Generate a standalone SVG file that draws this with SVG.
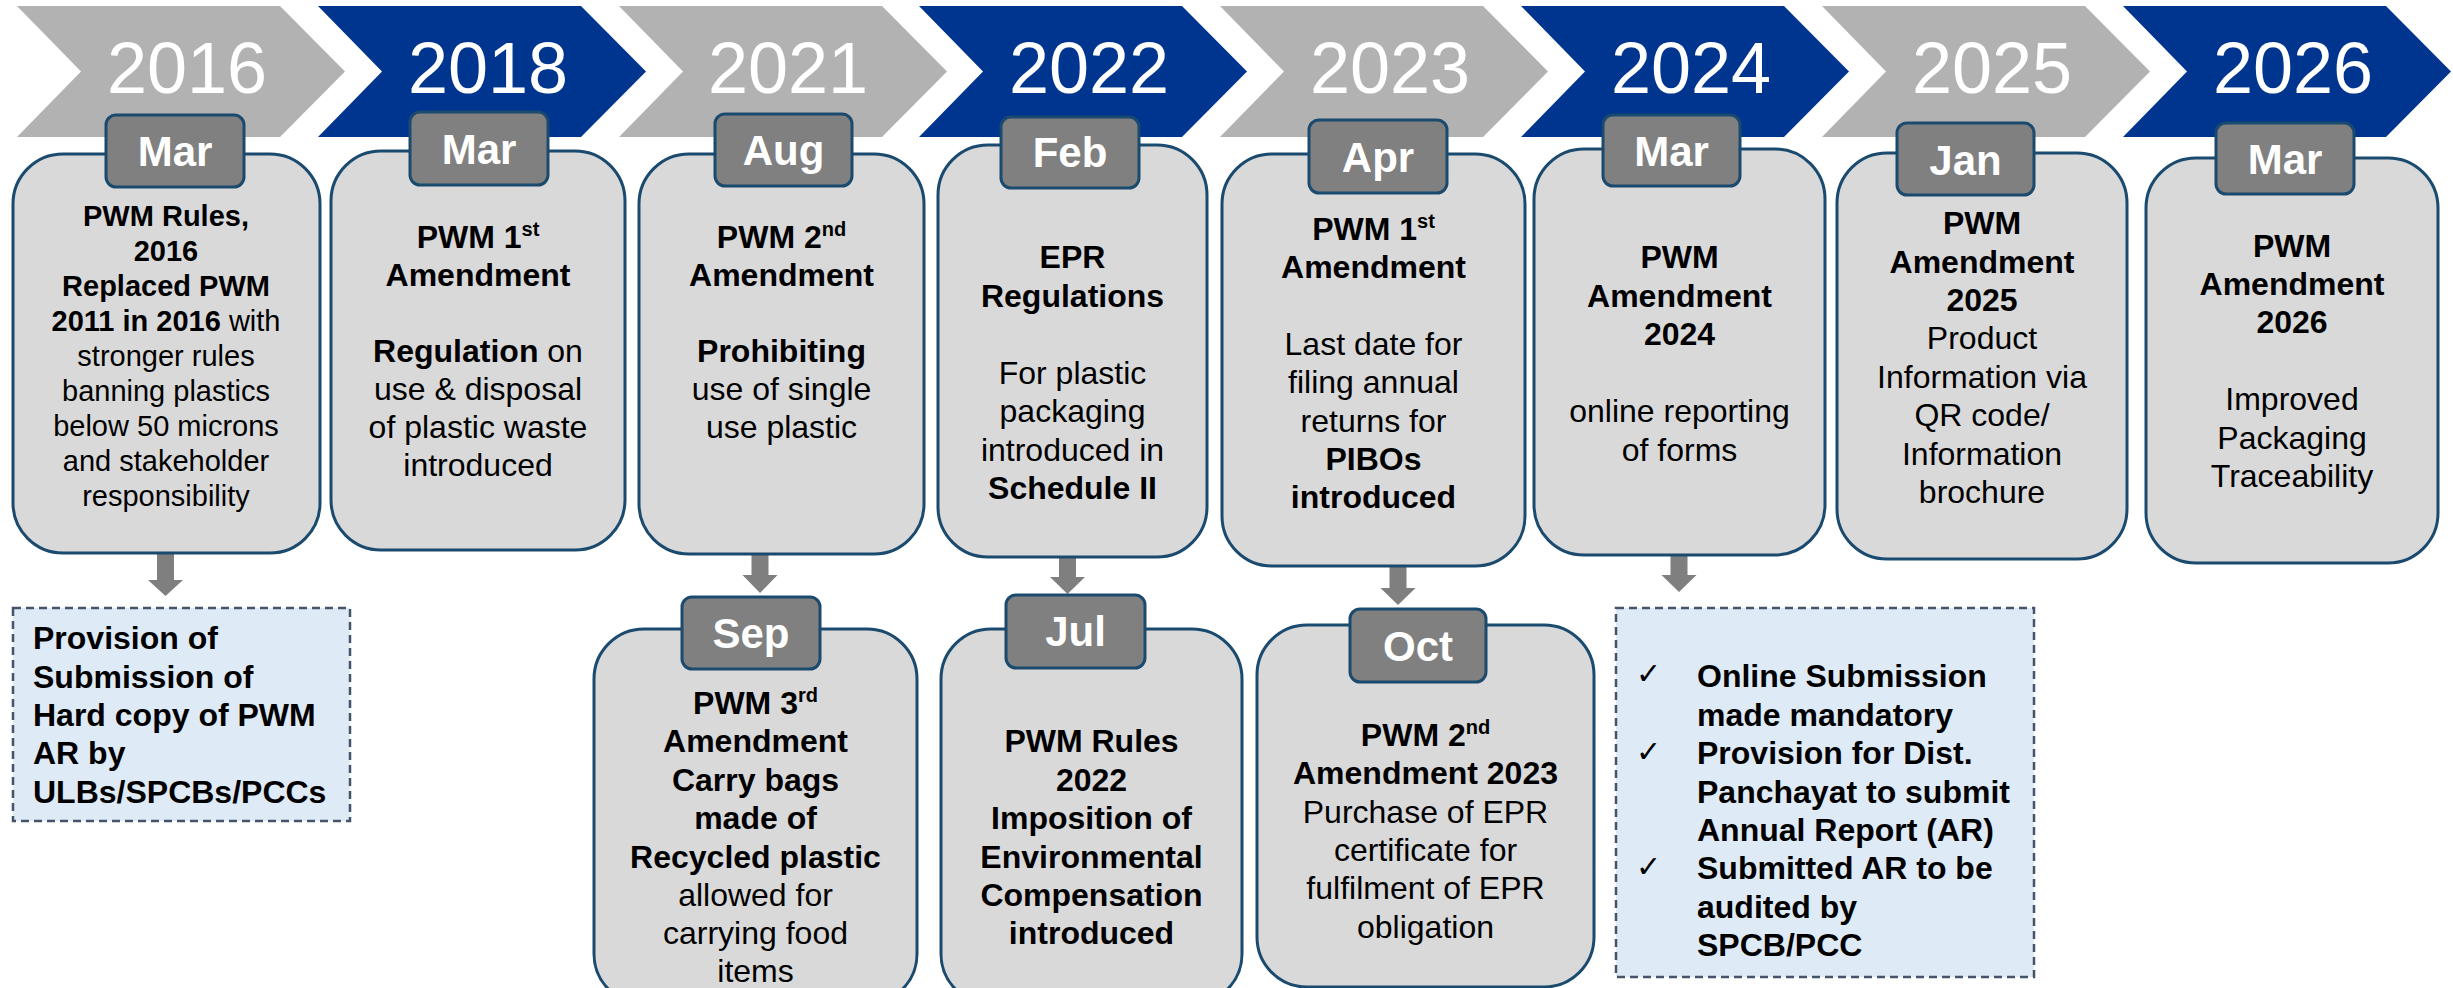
<svg xmlns="http://www.w3.org/2000/svg" width="2453" height="988" viewBox="0 0 2453 988">
<defs>
<style>
text{font-family:"Liberation Sans",Arial,Helvetica,sans-serif;}
.cg{fill:#B2B2B2;}
.cb{fill:#00358F;}
.yr{fill:#FFFFFF;font-size:72px;text-anchor:middle;}
.box{fill:#D9D9D9;stroke:#1B4A6F;stroke-width:3;}
.lbl{fill:#808080;stroke:#1B4A6F;stroke-width:3;}
.mt{fill:#FFFFFF;font-size:42px;font-weight:bold;text-anchor:middle;}
.t{fill:#000000;font-size:32px;text-anchor:middle;}
.t29{fill:#000000;font-size:29px;text-anchor:middle;}
.b{font-weight:bold;}
.dash{fill:#DEEAF6;stroke:#44546A;stroke-width:2.5;stroke-dasharray:8 5;}
.tl{fill:#000000;font-size:32px;font-weight:bold;}
.ck{fill:#000000;font-size:30px;font-family:"DejaVu Sans",sans-serif;}
.arr{fill:#7F7F7F;}
</style>
</defs>

<g id="timeline">
<polygon class="cg" points="17,6 280,6 345,71.5 280,137 17,137 81,71.5"/>
<text class="yr" x="187" y="93">2016</text>
<polygon class="cb" points="318,6 581,6 646,71.5 581,137 318,137 382,71.5"/>
<text class="yr" x="488" y="93">2018</text>
<polygon class="cg" points="619,6 882,6 947,71.5 882,137 619,137 683,71.5"/>
<text class="yr" x="788" y="93">2021</text>
<polygon class="cb" points="919,6 1182,6 1247,71.5 1182,137 919,137 983,71.5"/>
<text class="yr" x="1089" y="93">2022</text>
<polygon class="cg" points="1220,6 1483,6 1548,71.5 1483,137 1220,137 1284,71.5"/>
<text class="yr" x="1390" y="93">2023</text>
<polygon class="cb" points="1521,6 1784,6 1849,71.5 1784,137 1521,137 1585,71.5"/>
<text class="yr" x="1691" y="93">2024</text>
<polygon class="cg" points="1822,6 2085,6 2150,71.5 2085,137 1822,137 1886,71.5"/>
<text class="yr" x="1992" y="93">2025</text>
<polygon class="cb" points="2123,6 2386,6 2451,71.5 2386,137 2123,137 2187,71.5"/>
<text class="yr" x="2293" y="93">2026</text>
</g>

<g id="connectors">
<polygon class="arr" points="157,553 174,553 174,580 183,580 165.5,596 148,580 157,580"/>
<polygon class="arr" points="751.5,555 768.5,555 768.5,575 777.5,575 760,593 742.5,575 751.5,575"/>
<polygon class="arr" points="1059,558 1076,558 1076,577 1085,577 1067.5,594 1050,577 1059,577"/>
<polygon class="arr" points="1389.5,567 1406.5,567 1406.5,588 1415.5,588 1398,605 1380.5,588 1389.5,588"/>
<polygon class="arr" points="1670.5,555 1687.5,555 1687.5,575 1696.5,575 1679,592 1661.5,575 1670.5,575"/>
</g>

<g id="n2016">
<rect class="box" x="13" y="154" width="307" height="399" rx="50"/>
<rect class="lbl" x="106" y="115" width="138" height="72" rx="10"/>
<text class="mt" x="175" y="166">Mar</text>
<text class="t29" x="166" y="226"><tspan class="b">PWM Rules,</tspan></text>
<text class="t29" x="166" y="261"><tspan class="b">2016</tspan></text>
<text class="t29" x="166" y="296"><tspan class="b">Replaced PWM</tspan></text>
<text class="t29" x="166" y="331"><tspan class="b">2011 in 2016</tspan> with</text>
<text class="t29" x="166" y="366">stronger rules</text>
<text class="t29" x="166" y="401">banning plastics</text>
<text class="t29" x="166" y="436">below 50 microns</text>
<text class="t29" x="166" y="471">and stakeholder</text>
<text class="t29" x="166" y="506">responsibility</text>
</g>

<g id="n2016b">
<rect class="dash" x="13" y="608" width="337" height="213"/>
<text class="tl" x="33" y="649">Provision of</text>
<text class="tl" x="33" y="688">Submission of</text>
<text class="tl" x="33" y="726">Hard copy of PWM</text>
<text class="tl" x="33" y="764">AR by</text>
<text class="tl" x="33" y="803">ULBs/SPCBs/PCCs</text>
</g>

<g id="n2018">
<rect class="box" x="331" y="151" width="294" height="399" rx="50"/>
<rect class="lbl" x="410" y="112" width="138" height="73" rx="10"/>
<text class="mt" x="479" y="164">Mar</text>
<text class="t b" x="478" y="248">PWM 1<tspan font-size="20" dy="-12">st</tspan></text>
<text class="t b" x="478" y="286">Amendment</text>
<text class="t" x="478" y="362"><tspan class="b">Regulation</tspan> on</text>
<text class="t" x="478" y="400">use &amp; disposal</text>
<text class="t" x="478" y="438">of plastic waste</text>
<text class="t" x="478" y="476">introduced</text>
</g>

<g id="n2021">
<rect class="box" x="639" y="154" width="285" height="400" rx="50"/>
<rect class="lbl" x="715" y="114" width="137" height="72" rx="10"/>
<text class="mt" x="783.5" y="165">Aug</text>
<text class="t b" x="781.5" y="248">PWM 2<tspan font-size="20" dy="-12">nd</tspan></text>
<text class="t b" x="781.5" y="286">Amendment</text>
<text class="t b" x="781.5" y="362">Prohibiting</text>
<text class="t" x="781.5" y="400">use of single</text>
<text class="t" x="781.5" y="438">use plastic</text>
</g>

<g id="n2021b">
<rect class="box" x="594" y="629" width="323" height="375" rx="50"/>
<rect class="lbl" x="682" y="597" width="138" height="72" rx="10"/>
<text class="mt" x="751" y="648">Sep</text>
<text class="t b" x="755.5" y="714">PWM 3<tspan font-size="20" dy="-12">rd</tspan></text>
<text class="t b" x="755.5" y="752">Amendment</text>
<text class="t b" x="755.5" y="791">Carry bags</text>
<text class="t b" x="755.5" y="829">made of</text>
<text class="t b" x="755.5" y="868">Recycled plastic</text>
<text class="t" x="755.5" y="906">allowed for</text>
<text class="t" x="755.5" y="944">carrying food</text>
<text class="t" x="755.5" y="982">items</text>
</g>

<g id="n2022">
<rect class="box" x="938" y="145" width="269" height="412" rx="50"/>
<rect class="lbl" x="1001" y="117" width="138" height="71" rx="10"/>
<text class="mt" x="1070" y="167">Feb</text>
<text class="t b" x="1072.5" y="268">EPR</text>
<text class="t b" x="1072.5" y="307">Regulations</text>
<text class="t" x="1072.5" y="384">For plastic</text>
<text class="t" x="1072.5" y="422">packaging</text>
<text class="t" x="1072.5" y="461">introduced in</text>
<text class="t b" x="1072.5" y="499">Schedule II</text>
</g>

<g id="n2022b">
<rect class="box" x="941" y="629" width="301" height="375" rx="50"/>
<rect class="lbl" x="1006" y="595" width="139" height="73" rx="10"/>
<text class="mt" x="1075.5" y="646">Jul</text>
<text class="t b" x="1091.5" y="752">PWM Rules</text>
<text class="t b" x="1091.5" y="791">2022</text>
<text class="t b" x="1091.5" y="829">Imposition of</text>
<text class="t b" x="1091.5" y="868">Environmental</text>
<text class="t b" x="1091.5" y="906">Compensation</text>
<text class="t b" x="1091.5" y="944">introduced</text>
</g>

<g id="n2023">
<rect class="box" x="1222" y="154" width="303" height="412" rx="50"/>
<rect class="lbl" x="1309" y="120" width="138" height="73" rx="10"/>
<text class="mt" x="1378" y="172">Apr</text>
<text class="t b" x="1373.5" y="240">PWM 1<tspan font-size="20" dy="-12">st</tspan></text>
<text class="t b" x="1373.5" y="278">Amendment</text>
<text class="t" x="1373.5" y="355">Last date for</text>
<text class="t" x="1373.5" y="393">filing annual</text>
<text class="t" x="1373.5" y="432">returns for</text>
<text class="t b" x="1373.5" y="470">PIBOs</text>
<text class="t b" x="1373.5" y="508">introduced</text>
</g>

<g id="n2023b">
<rect class="box" x="1257" y="625" width="337" height="362" rx="50"/>
<rect class="lbl" x="1350" y="609" width="136" height="73" rx="10"/>
<text class="mt" x="1418" y="661">Oct</text>
<text class="t b" x="1425.5" y="746">PWM 2<tspan font-size="20" dy="-12">nd</tspan></text>
<text class="t b" x="1425.5" y="784">Amendment 2023</text>
<text class="t" x="1425.5" y="823">Purchase of EPR</text>
<text class="t" x="1425.5" y="861">certificate for</text>
<text class="t" x="1425.5" y="899">fulfilment of EPR</text>
<text class="t" x="1425.5" y="938">obligation</text>
</g>

<g id="n2024">
<rect class="box" x="1534" y="149" width="291" height="406" rx="50"/>
<rect class="lbl" x="1603" y="115" width="137" height="71" rx="10"/>
<text class="mt" x="1671.5" y="166">Mar</text>
<text class="t b" x="1679.5" y="268">PWM</text>
<text class="t b" x="1679.5" y="307">Amendment</text>
<text class="t b" x="1679.5" y="345">2024</text>
<text class="t" x="1679.5" y="422">online reporting</text>
<text class="t" x="1679.5" y="461">of forms</text>
</g>

<g id="n2024b">
<rect class="dash" x="1616" y="608" width="418" height="369"/>
<text class="ck" x="1636" y="684">✓</text>
<text class="ck" x="1636" y="762">✓</text>
<text class="ck" x="1636" y="877">✓</text>
<text class="tl" x="1697" y="687">Online Submission</text>
<text class="tl" x="1697" y="726">made mandatory</text>
<text class="tl" x="1697" y="764">Provision for Dist.</text>
<text class="tl" x="1697" y="803">Panchayat to submit</text>
<text class="tl" x="1697" y="841">Annual Report (AR)</text>
<text class="tl" x="1697" y="879">Submitted AR to be</text>
<text class="tl" x="1697" y="918">audited by</text>
<text class="tl" x="1697" y="956">SPCB/PCC</text>
</g>

<g id="n2025">
<rect class="box" x="1837" y="153" width="290" height="406" rx="50"/>
<rect class="lbl" x="1897" y="123" width="137" height="72" rx="10"/>
<text class="mt" x="1965.5" y="175">Jan</text>
<text class="t b" x="1982" y="234">PWM</text>
<text class="t b" x="1982" y="273">Amendment</text>
<text class="t b" x="1982" y="311">2025</text>
<text class="t" x="1982" y="349">Product</text>
<text class="t" x="1982" y="388">Information via</text>
<text class="t" x="1982" y="426">QR code/</text>
<text class="t" x="1982" y="465">Information</text>
<text class="t" x="1982" y="503">brochure</text>
</g>

<g id="n2026">
<rect class="box" x="2146" y="158" width="292" height="405" rx="50"/>
<rect class="lbl" x="2216" y="123" width="138" height="71" rx="10"/>
<text class="mt" x="2285" y="174">Mar</text>
<text class="t b" x="2292" y="257">PWM</text>
<text class="t b" x="2292" y="295">Amendment</text>
<text class="t b" x="2292" y="333">2026</text>
<text class="t" x="2292" y="410">Improved</text>
<text class="t" x="2292" y="449">Packaging</text>
<text class="t" x="2292" y="487">Traceability</text>
</g>
</svg>
